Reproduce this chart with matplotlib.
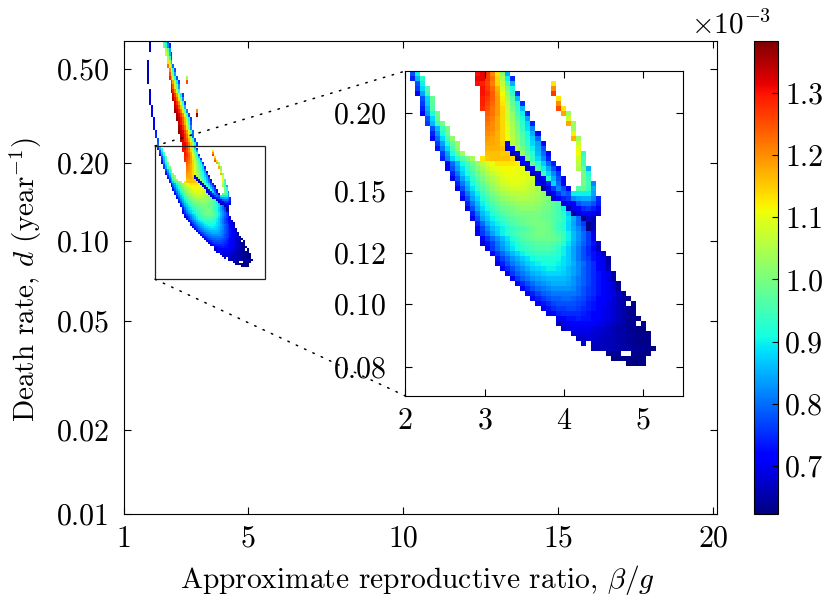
import numpy as np
import matplotlib
matplotlib.use("Agg")
import matplotlib.pyplot as plt
from matplotlib.patches import Rectangle, ConnectionPatch

# mortality map, values in 1e-5, rows counted downward from top of the zoom box
arm_start = [1, 1, 2, 2, 2, 3, 3, 3, 3, 4, 4, 5, 5, 5, 6, 6, 7]
arm_values = [
    [78, 90], [74, 86, 93], [78, 90], [76, 88, 96], [72, 84, 94], [78, 88, 98],
    [76, 87, 97], [74, 85, 96], [72, 83, 92, 100], [78, 88, 98], [76, 86, 94, 100],
    [78, 86, 94, 100], [74, 83, 91, 99], [72, 80, 88, 95, 102], [76, 84, 91, 98, 103],
    [73, 81, 88, 95, 102], [76, 84, 91, 98, 104],
]

band_start = [14, 14, 14, 15, 15, 15, 15, 15, 16, 16, 16, 16, 16, 16, 16, 16, 16]
band_values = [
    [130, 131, 127, 120, 113, 102, 85],
    [131, 131, 127, 122, 114, 105, 90, 75],
    [130, 129, 126, 121, 114, 107, 96, 85],
    [130, 127, 123, 117, 109, 100, 92],
    [130, 128, 124, 118, 111, 103, 93, 75],
    [129, 127, 124, 119, 112, 104, 97, 86],
    [129, 126, 123, 119, 113, 106, 98, 92, 75],
    [128, 125, 122, 119, 114, 107, 100, 94, 86],
    [124, 122, 119, 114, 108, 102, 95, 90, 74],
    [123, 121, 118, 114, 108, 103, 97, 92, 84],
    [122, 120, 118, 114, 109, 104, 99, 93, 88, 74],
    [121, 120, 118, 114, 110, 105, 100, 94, 89, 82],
    [120, 119, 117, 114, 110, 105, 101, 96, 91, 85, 72],
    [119, 118, 117, 114, 111, 106, 102, 97, 92, 87, 80],
    [118, 118, 117, 115, 70, 106, 102, 97, 93, 88, 84, 72],
    [117, 117, 117, 116, 68, 72, 105, 100, 95, 90, 85, 78],
    [116, 116, 116, 115, 115, 66, 72, 103, 97, 92, 86, 80, 72],
]

wing_row = [17, 18, 19, 20, 21, 22, 23, 24, 25, 26, 27, 28, 29, 30, 31]
wing_start = [22, 23, 24, 25, 26, 26, 27, 28, 29, 31, 32, 33, 35, 36, 36]
wing_values = [
    [63, 72, 100, 94, 88, 82, 74], [70, 72, 98, 92, 87, 80, 74],
    [66, 72, 96, 90, 84, 78, 72], [66, 70, 95, 88, 82, 76],
    [68, 72, 92, 85, 78, 72], [72, 68, 74, 88, 80, 72],
    [64, 70, 76, 82, 78, 72], [66, 72, 76, 80, 78],
    [68, 72, 74, 76], [68, 70, 72], [66, 70], [64, 68], [63, 68, 66],
    [63, 66], [63, 66],
]

hook_row = [2, 3, 4, 5, 6, 7, 7, 8, 8, 9, 10, 10, 11, 12, 13, 13, 14, 15, 16, 17, 18, 19,
            16, 17, 18, 19, 20, 21, 22, 23, 19, 20, 21, 22, 23, 22, 23, 23]
hook_col = [29, 29, 29, 30, 30, 30, 31, 31, 32, 32, 32, 33, 33, 33, 33, 34, 34, 34, 34, 34, 34, 34,
            35, 35, 35, 35, 35, 35, 35, 35, 36, 36, 36, 36, 36, 37, 37, 34]
hook_val = [113, 120, 127, 113, 120, 125, 113, 118, 103, 108, 118, 103, 103, 112, 117, 103, 108, 110, 111, 108, 106, 105,
            93, 95, 95, 98, 100, 100, 100, 98, 85, 92, 94, 95, 94, 82, 85, 97]

base_row = [24, 25, 26, 27, 28]
base_start = [33, 33, 34, 34, 35]
base_values = [
    [90, 90, 90, 90, 84], [82, 84, 85, 85, 82, 75], [78, 80, 80, 78, 74],
    [72, 75, 76, 74, 72], [72, 72, 70, 68],
]

body_row_first = 17
body_start = [7, 8, 8, 9, 9, 10, 10, 11, 11, 12, 12, 13, 13, 14, 14, 14, 15, 15, 16, 17, 18, 18, 19, 20,
              21, 22, 23, 24, 25, 26, 27, 28, 30, 30, 31, 33, 34, 35, 37, 40, 41, 44]
body_values = [
    [74, 82, 88, 92, 96, 100, 104, 0, 113, 115, 116, 116, 116, 116, 114],
    [72, 80, 86, 91, 95, 99, 103, 106, 109, 111, 113, 113, 113, 113, 112],
    [70, 78, 84, 89, 93, 97, 101, 104, 107, 109, 110, 111, 111, 111, 111, 110],
    [74, 81, 87, 91, 95, 99, 102, 105, 107, 109, 110, 111, 111, 110, 110, 109],
    [70, 78, 84, 89, 93, 97, 100, 103, 105, 107, 109, 110, 110, 110, 110, 109, 108],
    [74, 81, 86, 91, 95, 98, 101, 104, 106, 108, 109, 110, 110, 109, 108, 107],
    [70, 78, 84, 89, 93, 96, 99, 102, 104, 106, 107, 108, 108, 108, 107, 106, 104],
    [74, 81, 86, 90, 94, 97, 100, 102, 104, 105, 106, 106, 106, 106, 105, 104, 102],
    [70, 78, 84, 88, 92, 95, 98, 100, 102, 103, 104, 105, 105, 105, 104, 103, 102, 100],
    [74, 81, 86, 90, 93, 96, 98, 100, 101, 102, 103, 103, 103, 103, 102, 101, 100, 98, 96],
    [70, 78, 84, 88, 91, 94, 96, 98, 99, 100, 101, 102, 102, 102, 101, 100, 99, 97, 95, 90],
    [74, 81, 86, 89, 92, 94, 96, 98, 99, 100, 100, 100, 100, 100, 99, 98, 97, 95, 92, 87],
    [70, 78, 84, 87, 90, 92, 94, 96, 97, 98, 99, 100, 100, 100, 99, 98, 97, 95, 93, 89, 85, 80],
    [74, 80, 85, 88, 90, 92, 94, 96, 97, 98, 99, 100, 100, 100, 99, 97, 94, 92, 88, 84, 80, 76],
    [70, 77, 82, 86, 88, 90, 92, 94, 95, 96, 97, 98, 100, 100, 99, 97, 94, 92, 88, 85, 82, 78],
    [72, 76, 80, 84, 87, 90, 92, 94, 96, 97, 98, 99, 100, 100, 99, 98, 96, 94, 90, 86, 83, 80, 76, 70],
    [72, 76, 80, 83, 86, 89, 92, 94, 96, 97, 98, 99, 99, 99, 98, 97, 94, 90, 86, 83, 80, 76, 70],
    [68, 73, 77, 81, 84, 87, 90, 92, 94, 95, 96, 97, 97, 97, 96, 95, 92, 89, 85, 82, 79, 76, 73, 68],
    [72, 76, 80, 83, 86, 89, 91, 93, 94, 95, 96, 96, 96, 95, 93, 90, 87, 84, 81, 78, 75, 72, 67],
    [72, 76, 80, 83, 86, 88, 90, 92, 93, 94, 94, 94, 93, 92, 90, 87, 84, 81, 78, 75, 73, 70, 66],
    [73, 77, 80, 83, 85, 87, 89, 91, 92, 92, 92, 92, 91, 89, 87, 84, 81, 78, 76, 73, 71, 69, 65],
    [70, 74, 78, 81, 83, 85, 87, 89, 90, 91, 91, 91, 90, 89, 87, 85, 82, 80, 77, 75, 72, 70, 65],
    [71, 75, 78, 81, 83, 85, 87, 88, 89, 90, 90, 89, 88, 86, 84, 82, 79, 77, 75, 72, 70, 66],
    [72, 76, 79, 81, 83, 85, 86, 87, 88, 88, 88, 87, 86, 84, 82, 79, 77, 75, 73, 71, 69, 65],
    [72, 76, 79, 81, 83, 84, 85, 86, 86, 86, 86, 85, 83, 81, 79, 77, 75, 73, 71, 69, 65],
    [72, 75, 78, 80, 82, 83, 84, 85, 85, 85, 84, 83, 81, 79, 77, 75, 73, 72, 70, 68, 64],
    [72, 75, 78, 80, 81, 82, 83, 83, 83, 83, 82, 80, 78, 76, 75, 73, 71, 70, 68, 64],
    [71, 74, 77, 79, 80, 81, 81, 81, 81, 81, 80, 78, 76, 75, 73, 72, 70, 69, 67, 64],
    [71, 74, 76, 78, 79, 79, 80, 80, 79, 78, 77, 75, 74, 72, 71, 70, 68, 67, 65, 63],
    [71, 73, 75, 77, 78, 78, 78, 78, 77, 76, 74, 73, 72, 71, 69, 68, 66, 65, 0, 63],
    [70, 73, 75, 76, 76, 77, 77, 76, 75, 74, 73, 72, 70, 69, 68, 67, 65, 64, 63],
    [70, 72, 74, 75, 75, 75, 75, 74, 73, 72, 71, 70, 69, 68, 66, 65, 64, 63],
    [70, 72, 73, 73, 74, 73, 73, 72, 71, 70, 69, 68, 67, 65, 64, 64, 63],
    [67, 69, 71, 72, 72, 72, 72, 71, 70, 69, 68, 67, 66, 65, 64, 64, 0, 63],
    [67, 69, 70, 70, 70, 70, 69, 68, 68, 67, 66, 65, 65, 64, 64, 63, 63],
    [68, 69, 69, 69, 68, 68, 67, 67, 66, 65, 65, 64, 64, 63, 63, 63],
    [67, 68, 68, 68, 67, 67, 66, 66, 65, 65, 64, 64, 63, 63, 63],
    [67, 0, 67, 67, 67, 66, 66, 65, 65, 64, 64, 63, 63, 63],
    [66, 66, 66, 66, 66, 65, 65, 65, 64, 64, 64, 63, 63],
    [64, 64, 64, 0, 0, 64, 63, 63, 63],
    [63, 63, 63, 63, 63, 63, 63],
    [62, 62, 62, 62],
]

# part above the zoom box, each entry is two map rows high, going upward
upper_start = [14, 13, 13, 12, 12, 12, 11, 11, 10, 10, 10, 9, 9, 8, 8, 8, 7, 7, 7, 6, 6, 6, 5, 5, 4, 4]
upper_values = [
    [131, 131, 128, 122, 115, 105, 92, 76], [135, 132, 128, 124, 117, 108, 96, 78],
    [136, 133, 128, 122, 113, 100, 80], [137, 135, 131, 126, 119, 110, 98, 80],
    [136, 133, 128, 122, 113, 100, 82], [134, 130, 125, 117, 108, 95, 78],
    [137, 134, 130, 124, 116, 106, 92, 76], [136, 132, 127, 120, 110, 96, 78],
    [137, 134, 129, 122, 113, 100, 82], [135, 131, 125, 116, 104, 86],
    [133, 128, 120, 110, 94, 76], [135, 130, 123, 113, 100, 82],
    [133, 127, 118, 106, 90, 76], [134, 129, 120, 108, 92],
    [131, 124, 113, 100, 84], [128, 118, 106, 90, 76], [129, 120, 108, 92, 78],
    [125, 113, 100, 84], [120, 108, 94, 78], [122, 110, 96, 80], [113, 102, 86],
    [104, 92, 76], [108, 100, 86, 74], [104, 96, 84], [98, 92, 82, 74], [94, 90, 78],
]
strip_col = [1, 1, 0, 0, -1, -1, -1, -2, -2, -2, -3, -3, -3, -3, None, -4, -4, -4, -4, -4, -4, None, None, -3, -3, -3]
strip_val = [80, 78, 75, 74, 72, 72, 72, 70, 70, 70, 68, 68, 68, 68, None, 66, 66, 66, 66, 66, 66, None, None, 66, 66, 66]
spot_entry = [16, 15, 8, 7]
spot_col = [16, 16, 21, 21]
spot_val = [103, 125, 120, 137]

x_ticks = [1, 5, 10, 15, 20]
y_labels = ["0.01", "0.02", "0.05", "0.10", "0.20", "0.50"]
y_rows = [179.5, 138.5, 85.4, 46.3, 8.3, -37.6]
inset_x_ticks = [2, 3, 4, 5]
inset_y_labels = ["0.08", "0.10", "0.12", "0.15", "0.20"]
inset_y_rows = [59.2, 46.6, 36.4, 24.0, 8.4]
cbar_ticks = [0.7, 0.8, 0.9, 1.0, 1.1, 1.2, 1.3]

row0 = 52
col0 = 6
n_rows = row0 + 60
n_cols = col0 + 52
dx = 0.0632
grid = np.full((n_rows, n_cols), np.nan)


def put(row, start, values):
    for i, v in enumerate(values):
        if v:
            grid[row + row0, start + i + col0] = v / 100


for r in range(len(arm_start)):
    put(r, arm_start[r], arm_values[r])
    put(r, band_start[r], band_values[r])
for r, c, v in zip(hook_row, hook_col, hook_val):
    put(r, c, [v])
for r, s, v in zip(base_row, base_start, base_values):
    put(r, s, v)
for r, s, v in zip(wing_row, wing_start, wing_values):
    put(r, s, v)
for i in range(len(body_start)):
    put(body_row_first + i, body_start[i], body_values[i])
for k in range(len(upper_start)):
    for r in (-1 - 2 * k, -2 - 2 * k):
        put(r, upper_start[k], upper_values[k])
        if strip_col[k] is not None:
            put(r, strip_col[k], [strip_val[k]])
for k, c, v in zip(spot_entry, spot_col, spot_val):
    for r in (-1 - 2 * k, -2 - 2 * k):
        put(r, c, [v])

plt.rcParams["font.family"] = ["cmr10", "DejaVu Sans"]
plt.rcParams["mathtext.fontset"] = "cm"
plt.rcParams["axes.formatter.use_mathtext"] = True
plt.rcParams["font.size"] = 21.5

W, H = 829, 600


def box(x0, y0, x1, y1):
    return [x0 / W, 1 - y1 / H, (x1 - x0) / W, (y1 - y0) / H]


fig = plt.figure(figsize=(W / 100, H / 100), dpi=100)
ax = fig.add_axes(box(124, 41, 717, 514))
extent = [2 - col0 * dx, 2 + (n_cols - col0) * dx, n_rows - row0, -row0]
vmin, vmax = 0.623, 1.383
im = ax.imshow(grid, cmap="jet", vmin=vmin, vmax=vmax, extent=extent, aspect="auto", interpolation="nearest")
ax.set_xlim(1, 20.13)
ax.set_ylim(179.5, -51.2)
ax.set_xticks(x_ticks)
ax.set_xticklabels([str(v) for v in x_ticks])
ax.set_yticks(y_rows)
ax.set_yticklabels(y_labels)
ax.tick_params(direction="in", length=5, width=0.8, top=True, right=True)
ax.tick_params(axis="x", pad=8)
ax.tick_params(axis="y", pad=10)
ax.set_xlabel(r"Approximate reproductive ratio, $\beta/g$", fontsize=21.2)
ax.set_ylabel(r"Death rate, $d$ (year$^{-1}$)", fontsize=21)
ax.xaxis.set_label_coords(0.494, -49 / 473)
ax.yaxis.set_label_coords(-0.135, 0.495)
ax.add_patch(Rectangle((2, 0), 3.55, 65, fill=False, edgecolor="#222222", linewidth=0.9, zorder=3))

axins = fig.add_axes(box(405.5, 71, 683, 396))
axins.imshow(grid, cmap="jet", vmin=vmin, vmax=vmax, extent=extent, aspect="auto", interpolation="nearest")
axins.set_xlim(2, 5.5)
axins.set_ylim(65, 0)
axins.set_xticks(inset_x_ticks)
axins.set_xticklabels([str(v) for v in inset_x_ticks])
axins.set_yticks(inset_y_rows)
axins.set_yticklabels(inset_y_labels)
axins.tick_params(direction="in", length=5, width=0.8, top=True, right=True)
axins.tick_params(axis="x", pad=8)
axins.tick_params(axis="y", pad=13.5)

for yA, yB in [(0, 0), (65, 65)]:
    con = ConnectionPatch(xyA=(2, yA), coordsA=ax.transData, xyB=(2, yB), coordsB=axins.transData,
                          linestyle=(0, (1, 5)), linewidth=1.1, color="black")
    fig.add_artist(con)

cax = fig.add_axes(box(754, 41, 778, 514))
cb = fig.colorbar(im, cax=cax)
cb.set_ticks(cbar_ticks)
cb.set_ticklabels([f"{v:.1f}" for v in cbar_ticks])
cb.ax.tick_params(direction="in", length=4, width=0.8, pad=5)
cb.outline.set_linewidth(0.8)
fig.text(691 / W, 1 - 33 / H, r"$\times 10^{-3}$", fontsize=21, ha="left", va="baseline")

fig.savefig("out.png", dpi=100)
